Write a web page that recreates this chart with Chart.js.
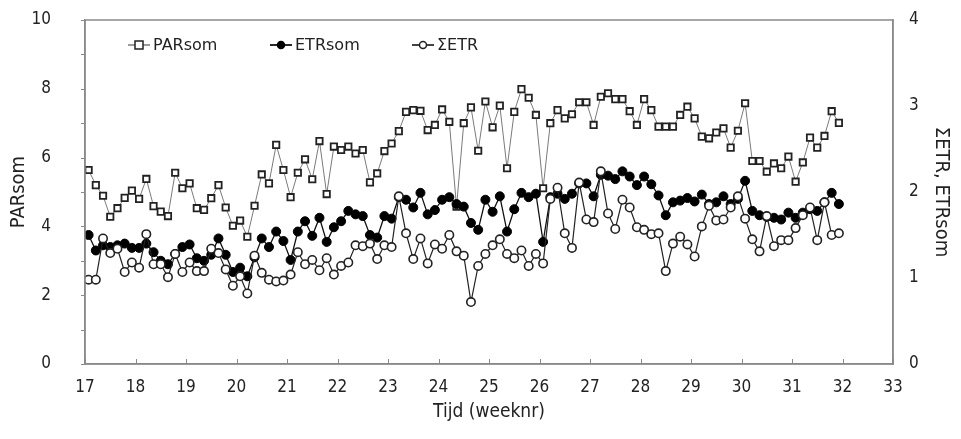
<!DOCTYPE html>
<html>
<head>
<meta charset="utf-8">
<script src="https://cdn.jsdelivr.net/npm/chart.js@4.4.0/dist/chart.umd.min.js"></script>
<style>
  html, body { margin: 0; padding: 0; background: #fff; }
  #wrap { width: 961px; height: 439px; }
</style>
</head>
<body>
<div id="wrap"><canvas id="parChart"></canvas></div>
<script>
// daily values, week 17 to week 32
const firstWeek = 17;
const weekTicks = [17, 18, 19, 20, 21, 22, 23, 24, 25, 26, 27, 28, 29, 30, 31, 32, 33];
const parTicks = [0, 2, 4, 6, 8, 10];
const etrTicks = [0, 1, 2, 3, 4];

const parSom = [
  5.64, 5.20, 4.89, 4.28, 4.53, 4.83, 5.04, 4.80, 5.38, 4.59,
  4.43, 4.30, 5.56, 5.11, 5.25, 4.53, 4.48, 4.82, 5.20, 4.55,
  4.02, 4.17, 3.70, 4.60, 5.51, 5.25, 6.37, 5.64, 4.85, 5.56,
  5.95, 5.37, 6.48, 4.94, 6.32, 6.22, 6.32, 6.12, 6.22, 5.28,
  5.54, 6.19, 6.41, 6.77, 7.33, 7.38, 7.36, 6.80, 6.95, 7.40,
  7.04, 4.57, 7.00, 7.46, 6.20, 7.63, 6.88, 7.51, 5.69, 7.33,
  7.99, 7.74, 7.24, 5.11, 7.00, 7.38, 7.14, 7.26, 7.61, 7.61,
  6.95, 7.77, 7.87, 7.70, 7.70, 7.35, 6.95, 7.70, 7.38, 6.90,
  6.90, 6.90, 7.24, 7.48, 7.14, 6.61, 6.56, 6.73, 6.85, 6.29,
  6.78, 7.58, 5.90, 5.90, 5.59, 5.83, 5.69, 6.03, 5.30, 5.86,
  6.58, 6.29, 6.63, 7.35, 7.01
];

const etrSom = [
  1.50, 1.32, 1.38, 1.36, 1.38, 1.40, 1.35, 1.35, 1.40, 1.30,
  1.20, 1.16, 1.28, 1.36, 1.39, 1.23, 1.20, 1.27, 1.46, 1.27,
  1.07, 1.12, 1.02, 1.24, 1.46, 1.36, 1.54, 1.43, 1.21, 1.54,
  1.66, 1.49, 1.70, 1.42, 1.59, 1.66, 1.78, 1.74, 1.72, 1.50,
  1.47, 1.72, 1.69, 1.94, 1.91, 1.82, 1.99, 1.74, 1.79, 1.91,
  1.94, 1.86, 1.83, 1.64, 1.56, 1.91, 1.77, 1.95, 1.54, 1.80,
  1.99, 1.94, 1.98, 1.42, 1.94, 1.98, 1.92, 1.98, 2.10, 2.10,
  1.95, 2.20, 2.19, 2.15, 2.24, 2.18, 2.08, 2.18, 2.09, 1.96,
  1.73, 1.88, 1.90, 1.93, 1.89, 1.97, 1.86, 1.88, 1.95, 1.86,
  1.92, 2.13, 1.78, 1.73, 1.71, 1.70, 1.68, 1.76, 1.70, 1.76,
  1.80, 1.78, 1.88, 1.99, 1.86
];

const sumEtr = [
  0.98, 0.98, 1.46, 1.29, 1.34, 1.07, 1.18, 1.12, 1.51, 1.16,
  1.16, 1.01, 1.28, 1.07, 1.18, 1.08, 1.08, 1.34, 1.29, 1.10,
  0.91, 1.02, 0.82, 1.26, 1.06, 0.98, 0.96, 0.97, 1.04, 1.30,
  1.16, 1.21, 1.09, 1.23, 1.04, 1.14, 1.18, 1.38, 1.37, 1.40,
  1.22, 1.38, 1.36, 1.95, 1.52, 1.22, 1.46, 1.17, 1.39, 1.34,
  1.50, 1.31, 1.26, 0.72, 1.14, 1.28, 1.38, 1.45, 1.28, 1.23,
  1.32, 1.14, 1.28, 1.17, 1.92, 2.05, 1.52, 1.35, 2.11, 1.68,
  1.65, 2.24, 1.75, 1.57, 1.91, 1.82, 1.59, 1.56, 1.51, 1.52,
  1.08, 1.40, 1.48, 1.39, 1.25, 1.60, 1.84, 1.67, 1.68, 1.82,
  1.95, 1.69, 1.45, 1.31, 1.72, 1.37, 1.44, 1.44, 1.58, 1.73,
  1.82, 1.44, 1.88, 1.50, 1.52
];

// one point per day, placed in the middle of its day
const toPoints = arr => arr.map((v, i) => ({ x: firstWeek + (i + 0.5) / 7, y: v }));

const FONT = '"Liberation Sans Narrow", "DejaVu Sans Condensed", sans-serif';
const frameColor = '#8a8a8a';

// box round the plot, short inward week ticks and unit ticks on the left axis
const framePlugin = {
  id: 'frame',
  afterDraw(chart) {
    const { ctx, chartArea: a } = chart;
    const xs = chart.scales.x;
    const ys = chart.scales.yPar;
    ctx.save();
    ctx.strokeStyle = frameColor;
    ctx.lineWidth = 1.5;
    ctx.strokeRect(a.left, a.top, a.right - a.left, a.bottom - a.top);
    ctx.lineWidth = 1;
    ctx.beginPath();
    weekTicks.forEach(w => {
      const px = Math.round(xs.getPixelForValue(w)) + 0.5;
      ctx.moveTo(px, a.bottom);
      ctx.lineTo(px, a.bottom - 5);
    });
    for (let v = ys.min; v <= ys.max; v++) {
      const py = Math.round(ys.getPixelForValue(v)) + 0.5;
      ctx.moveTo(a.left - 4, py);
      ctx.lineTo(a.left, py);
    }
    ctx.stroke();
    ctx.restore();
  }
};

// legend inside the plot: short line with the marker on it
const insideLegend = {
  id: 'insideLegend',
  afterDraw(chart) {
    const { ctx, chartArea: a } = chart;
    const y = a.top + 25;
    ctx.save();
    ctx.font = '16px "DejaVu Sans", sans-serif';
    ctx.textBaseline = 'middle';
    chart.data.datasets.forEach((ds, i) => {
      const x = a.left + 43 + i * 142;
      ctx.strokeStyle = ds.borderColor;
      ctx.lineWidth = ds.borderWidth + 0.5;
      ctx.beginPath();
      ctx.moveTo(x, y);
      ctx.lineTo(x + 22, y);
      ctx.stroke();
      ctx.fillStyle = ds.pointBackgroundColor;
      ctx.strokeStyle = ds.pointBorderColor;
      ctx.lineWidth = 1.5;
      if (ds.pointStyle === 'rect') {
        ctx.fillRect(x + 7, y - 4, 8, 8);
        ctx.strokeRect(x + 7, y - 4, 8, 8);
      } else {
        ctx.beginPath();
        ctx.arc(x + 11, y, 3.5, 0, Math.PI * 2);
        ctx.fill();
        ctx.stroke();
      }
      ctx.fillStyle = '#222';
      ctx.fillText(ds.label, x + 25, y + 1);
    });
    ctx.restore();
  }
};

// fixed axis box sizes, no extra padding for label overhang
const fixWidth = w => s => { s.width = w; s.paddingTop = 0; s.paddingBottom = 0; };

new Chart(document.getElementById('parChart'), {
  type: 'line',
  data: {
    datasets: [{
      label: 'PARsom',
      data: toPoints(parSom),
      yAxisID: 'yPar',
      borderColor: '#7a7a7a',
      borderWidth: 1,
      pointStyle: 'rect',
      pointRadius: 4.5,
      pointBorderWidth: 1.8,
      pointBorderColor: '#222',
      pointBackgroundColor: '#fff',
      order: 3
    }, {
      label: 'ETRsom',
      data: toPoints(etrSom),
      yAxisID: 'yEtr',
      borderColor: '#111',
      borderWidth: 1.3,
      pointStyle: 'circle',
      pointRadius: 4.5,
      pointBorderWidth: 1,
      pointBorderColor: '#000',
      pointBackgroundColor: '#000',
      order: 2
    }, {
      label: 'ΣETR',
      data: toPoints(sumEtr),
      yAxisID: 'yEtr',
      borderColor: '#222',
      borderWidth: 1.2,
      pointStyle: 'circle',
      pointRadius: 4.2,
      pointBorderWidth: 1.6,
      pointBorderColor: '#222',
      pointBackgroundColor: '#fff',
      order: 1
    }]
  },
  options: {
    responsive: true,
    maintainAspectRatio: false,
    animation: false,
    layout: { padding: { top: 20, left: 3, right: 8, bottom: 0 } },
    plugins: {
      legend: { display: false },
      tooltip: { enabled: false }
    },
    scales: {
      x: {
        type: 'linear',
        min: 17,
        max: 33,
        afterBuildTicks: s => { s.ticks = weekTicks.map(v => ({ value: v })); },
        afterFit: s => { s.height = 75; s.paddingLeft = 0; s.paddingRight = 0; },
        grid: { display: false },
        border: { color: frameColor, width: 1.5 },
        ticks: { color: '#222', font: { family: FONT, size: 17 }, padding: 5, maxRotation: 0 },
        title: { display: true, text: 'Tijd (weeknr)', color: '#222', font: { family: FONT, size: 19 }, padding: { top: 0, bottom: 16 } }
      },
      yPar: {
        position: 'left',
        min: 0,
        max: 10,
        afterBuildTicks: s => { s.ticks = parTicks.map(v => ({ value: v })); },
        afterFit: fixWidth(82),
        grid: { display: false },
        border: { color: frameColor, width: 1.5 },
        ticks: { color: '#222', font: { family: FONT, size: 17 }, padding: 26 },
        title: { display: true, text: 'PARsom', color: '#222', font: { family: FONT, size: 20 }, padding: { bottom: 0 } }
      },
      yEtr: {
        position: 'right',
        min: 0,
        max: 4,
        afterBuildTicks: s => { s.ticks = etrTicks.map(v => ({ value: v })); },
        afterFit: fixWidth(60),
        grid: { display: false },
        border: { color: frameColor, width: 1.5 },
        ticks: { color: '#222', font: { family: FONT, size: 17 }, padding: 8 },
        title: { display: true, text: 'ΣETR, ETRsom', color: '#222', font: { family: FONT, size: 20 }, padding: { top: 0 } }
      }
    }
  },
  plugins: [framePlugin, insideLegend]
});
</script>
</body>
</html>
